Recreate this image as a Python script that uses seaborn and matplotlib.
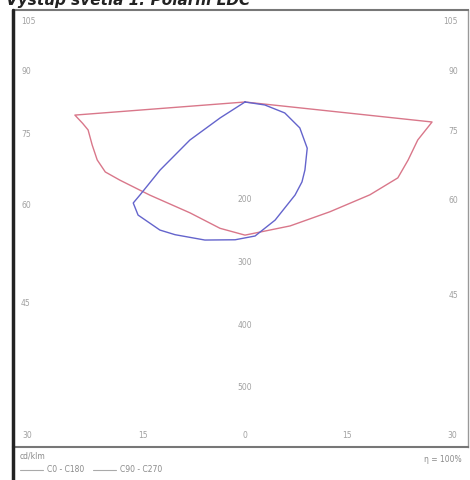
import numpy as np
import pandas as pd
import matplotlib
matplotlib.use('Agg')
import matplotlib.pyplot as plt
from matplotlib.lines import Line2D
import seaborn as sns

sns.set_theme(style='white')
plt.rcParams['font.family'] = ['DejaVu Sans']

# --- data: svetelne krivky (gamma ve stupnich, intenzita v cd/klm) ---
# zaporny uhel = leva strana diagramu
c0_gamma = [-90, -85.6, -82.5, -79.9, -74.3, -68.6, -63.4, -58.0, -45.6, -26.4, -11.2, 0,
            20, 37.7, 53.4, 63.6, 70.4, 77.6, 83.9, 90]
c0_cd = [0, 273, 262, 255, 254, 254, 250, 236, 213, 198, 206, 213,
         211, 222, 249, 273, 277, 283, 301, 0]

c90_gamma = [-90, -60, -57.4, -55.4, -51.3, -48.5, -47.9, -43.4, -33.6, -27.8, -16.2, -4.1,
             4.3, 14.3, 28.3, 35.5, 41.4, 53.4, 64.7, 74.6, 81.5, 90]
c90_cd = [0, 0, 47, 107, 174, 224, 241, 249, 246, 240, 230, 221,
          215, 195, 169, 157, 145, 124, 97, 66, 32, 0]

angle_side = [105, 90, 75, 60, 45]
angle_bottom = [-30, -15, 0, 15, 30]
ring_values = [200, 300, 400, 500]

curve_names = ['C0 - C180', 'C90 - C270']
curve_colors = ['#d9778a', '#6464cc']

# prevod polarnich souradnic na kartezske (svitidlo sviti dolu)
rows = []
for name, gam, cd in [(curve_names[0], c0_gamma, c0_cd), (curve_names[1], c90_gamma, c90_cd)]:
    g = np.radians(gam)
    r = np.array(cd, dtype=float)
    for i, (x, y) in enumerate(zip(r * np.sin(g), -r * np.cos(g))):
        rows.append({'x': x, 'y': y, 'krivka': name, 'poradi': i})
df = pd.DataFrame(rows)

px = 0.625  # pixelu na cd
W, H = 470, 480
fr_l, fr_r, fr_t, fr_b = 13, 468, 10, 447
ox, oy = 245, 102

fig = plt.figure(figsize=(W / 100, H / 100), dpi=100)
ax = fig.add_axes([fr_l / W, (H - fr_b) / H, (fr_r - fr_l) / W, (fr_b - fr_t) / H])

sns.lineplot(data=df, x='x', y='y', hue='krivka', palette=curve_colors,
             sort=False, estimator=None, units='krivka', lw=1.0, ax=ax, legend=False)

xl, xr = (fr_l - ox) / px, (fr_r - ox) / px
yt, yb = (oy - fr_t) / px, -(fr_b - oy) / px
ax.set_xlim(xl, xr)
ax.set_ylim(yb, yt)
ax.set_xticks([])
ax.set_yticks([])
ax.set_xlabel('')
ax.set_ylabel('')

lab = dict(fontsize=5.5, color='#a0a0a0')
off = 30 / px
top_lim = yt - 12 / px
for a in angle_side:
    t = np.tan(np.radians(a))
    yl = min(-abs(xl) / t + off, top_lim)
    yr = min(-abs(xr) / t + off, top_lim)
    ax.text(xl + 8 / px, yl, str(a), ha='left', va='center', **lab)
    ax.text(xr - 10 / px, yr, str(a), ha='right', va='center', **lab)
for a in angle_bottom:
    x = abs(yb) * np.tan(np.radians(a)) * 1.1
    x = float(np.clip(x, xl + 14 / px, xr - 16 / px))
    ax.text(x, yb + 12 / px, str(abs(a)), ha='center', va='center', **lab)
for v in ring_values:
    ax.text(0, -v + 27 / px, str(v), ha='center', va='center', **lab)

for s in ['top', 'bottom']:
    ax.spines[s].set_color('#777777')
    ax.spines[s].set_linewidth(1.5)
ax.spines['right'].set_color('#999999')
ax.spines['right'].set_linewidth(1.0)
ax.spines['left'].set_visible(False)

# levy okraj pres celou vysku
fig.add_artist(Line2D([fr_l / W, fr_l / W], [0, (H - fr_t) / H], color='#222222', lw=2.5))

fig.text(6 / W, 1.0, 'Výstup světla 1: Polární LDC', fontsize=11, fontweight='bold',
         fontstyle='italic', color='#222222', ha='left', va='center')

fig.text(20 / W, (H - 456) / H, 'cd/klm', fontsize=5.5, color='#8a8a8a', ha='left', va='center')
fig.text(462 / W, (H - 460) / H, 'η = 100%', fontsize=5.5, color='#8a8a8a', ha='right', va='center')

handles = [Line2D([], [], color='#aaaaaa', lw=0.8) for _ in curve_names]
fig.legend(handles, curve_names, loc='center left', bbox_to_anchor=(20 / W, (H - 470) / H),
           ncol=2, frameon=False, fontsize=5.5, labelcolor='#8a8a8a', handlelength=3,
           handletextpad=0.5, columnspacing=1.2, borderaxespad=0, borderpad=0)

fig.savefig('out.png', dpi=100)
